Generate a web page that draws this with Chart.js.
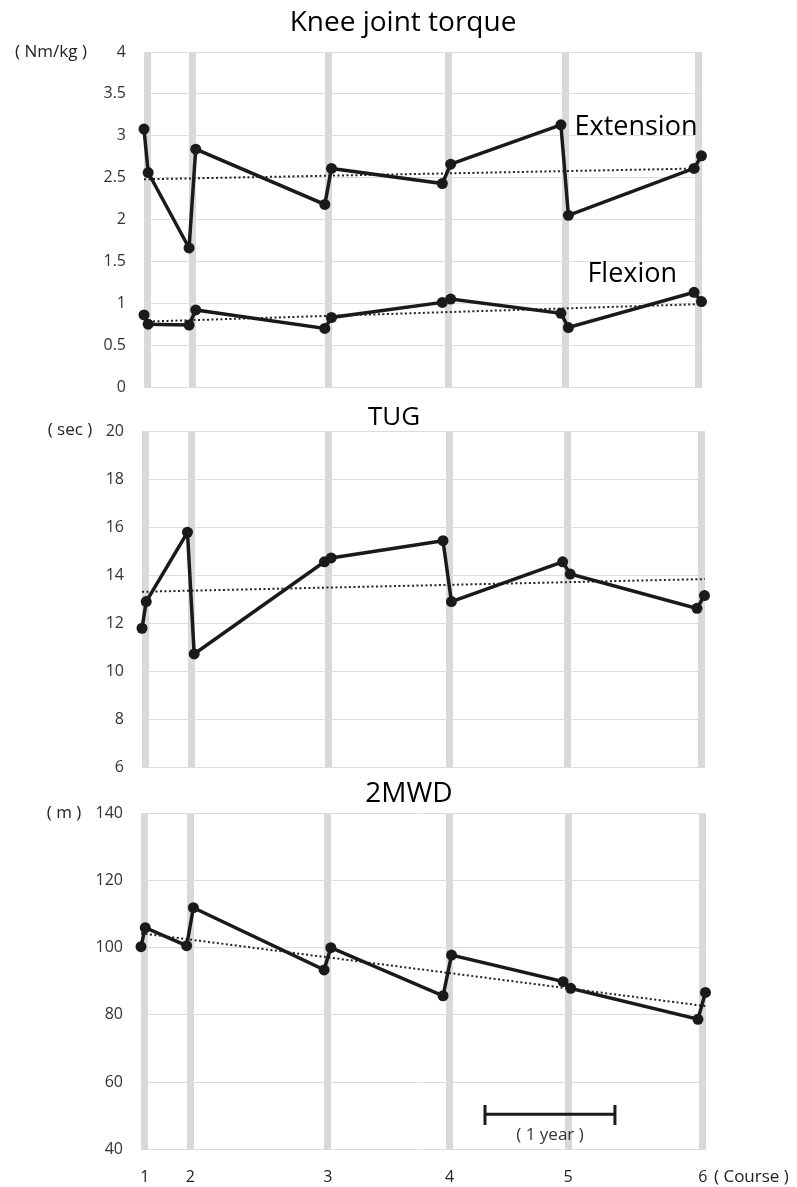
<!DOCTYPE html>
<html><head><meta charset="utf-8">
<script src="https://cdn.jsdelivr.net/npm/chart.js@4"></script>
<style>
body{margin:0;background:#fff;width:797px;height:1187px;overflow:hidden;position:relative;}
.c{position:absolute;left:0;width:797px;}
</style></head>
<body>
<div class="c" style="top:0;height:420px"><canvas id="c1"></canvas></div>
<div class="c" style="top:400px;height:400px"><canvas id="c2"></canvas></div>
<div class="c" style="top:780px;height:407px"><canvas id="c3"></canvas></div>
<script>
// measurement times (months from first measurement)
const times = [0, 0.39, 4.2, 4.82, 16.85, 17.47, 27.8, 28.58, 38.85, 39.55, 51.26, 51.95];
const coursePositions = [0.35, 4.53, 17.2, 28.4, 39.3, 51.7];
const courseLabels = ['1','2','3','4','5','6'];
const extension = [3.08, 2.56, 1.66, 2.84, 2.18, 2.61, 2.43, 2.66, 3.13, 2.05, 2.61, 2.76];
const flexion   = [0.86, 0.75, 0.74, 0.92, 0.70, 0.83, 1.01, 1.05, 0.88, 0.71, 1.13, 1.02];
const tug       = [11.81, 12.92, 15.81, 10.74, 14.58, 14.74, 15.46, 12.92, 14.58, 14.07, 12.64, 13.17];
const mwd       = [100.3, 105.95, 100.6, 111.9, 93.4, 100.0, 85.7, 97.8, 89.9, 87.9, 78.7, 86.7];
const trendX = [0, 52];
const extensionTrend = [2.48, 2.61];
const flexionTrend = [0.78, 0.99];
const tugTrend = [13.33, 13.86];
const mwdTrend = [104.3, 82.6];
const yearBarX = [31.66, 43.62];
const yearBarY = [50.4, 47.2, 53.2];

const FONT = '"Open Sans", "Noto Sans", sans-serif';
const INK = '#1a1a1a';

const textPlugin = {
  id: 'texts',
  afterDraw(chart, args, opts) {
    const ctx = chart.ctx;
    (opts.items || []).forEach(t => {
      ctx.save();
      ctx.font = t.font;
      ctx.fillStyle = t.color || '#000';
      ctx.textAlign = t.align || 'center';
      ctx.textBaseline = 'middle';
      const x = t.px !== undefined ? t.px : chart.scales.x.getPixelForValue(t.x);
      const y = t.py !== undefined ? t.py : chart.scales.y.getPixelForValue(t.y);
      ctx.fillText(t.text, x, y);
      ctx.restore();
    });
  }
};
Chart.register(textPlugin);

function pts(xs, ys) { return ys.map((y, i) => ({x: xs[i], y})); }
function series(values) {
  return {data: pts(times, values), borderColor: INK, borderWidth: 3.5, pointRadius: 5.5,
    pointBackgroundColor: INK, pointBorderWidth: 0, pointHoverRadius: 5.5, tension: 0, clip: false};
}
function trend(values) {
  return {data: pts(trendX, values), borderColor: '#222', borderWidth: 2, borderDash: [2, 2.5],
    pointRadius: 0, tension: 0, clip: false};
}

function makeChart(id, c) {
  new Chart(document.getElementById(id), {
    type: 'line',
    data: {datasets: c.datasets},
    options: {
      responsive: true, maintainAspectRatio: false, animation: false,
      layout: {padding: {left: 0, right: 797 - c.area.right, top: c.area.top,
        bottom: c.height - c.area.bottom - c.xH}},
      plugins: {legend: {display: false}, tooltip: {enabled: false}, texts: {items: c.texts}},
      scales: {
        x: {
          type: 'linear', min: 0, max: 52,
          afterBuildTicks: s => { s.ticks = coursePositions.map(v => ({value: v})); },
          afterFit: s => { s.height = c.xH; },
          ticks: {display: c.showX, autoSkip: false, maxRotation: 0, padding: 19,
            font: {family: FONT, size: 16}, color: '#222',
            callback: (v, i) => courseLabels[i]},
          grid: {color: '#d9d9d9', lineWidth: 7, drawTicks: false},
          border: {display: false}
        },
        y: {
          min: c.yMin, max: c.yMax,
          afterFit: s => { s.width = c.area.left; },
          ticks: {stepSize: c.yStep, padding: 18, font: {family: FONT, size: 16}, color: '#333',
            callback: v => String(Number(v.toFixed(2)))},
          grid: {color: '#dcdcdc', lineWidth: 1, drawTicks: false},
          border: {display: false}
        }
      }
    }
  });
}

makeChart('c1', {
  height: 420, area: {left: 144, right: 702, top: 52, bottom: 387}, xH: 30, showX: false,
  yMin: 0, yMax: 4, yStep: 0.5,
  datasets: [series(extension), series(flexion), trend(extensionTrend), trend(flexionTrend)],
  texts: [
    {text: 'Knee joint torque', px: 403, py: 23, font: '28px ' + FONT},
    {text: '( Nm/kg )', px: 51, py: 52, font: '17px ' + FONT, color: '#222'},
    {text: 'Extension', x: 45.85, y: 3.1, font: '27px ' + FONT},
    {text: 'Flexion', x: 45.5, y: 1.34, font: '27px ' + FONT}
  ]
});

makeChart('c2', {
  height: 400, area: {left: 142, right: 705, top: 31.7, bottom: 367.7}, xH: 30, showX: false,
  yMin: 6, yMax: 20, yStep: 2,
  datasets: [series(tug), trend(tugTrend)],
  texts: [
    {text: 'TUG', px: 394, py: 18, font: '26px ' + FONT},
    {text: '( sec )', px: 70, py: 30, font: '17px ' + FONT, color: '#222'}
  ]
});

makeChart('c3', {
  height: 407, area: {left: 141, right: 706, top: 33.3, bottom: 369.3}, xH: 37.7, showX: true,
  yMin: 40, yMax: 140, yStep: 20,
  datasets: [
    series(mwd), trend(mwdTrend),
    {data: [
      {x: yearBarX[0], y: yearBarY[2]}, {x: yearBarX[0], y: yearBarY[1]}, {x: yearBarX[0], y: yearBarY[0]},
      {x: yearBarX[1], y: yearBarY[0]}, {x: yearBarX[1], y: yearBarY[2]}, {x: yearBarX[1], y: yearBarY[1]}
    ], borderColor: INK, borderWidth: 3, pointRadius: 0, tension: 0}
  ],
  texts: [
    {text: '2MWD', px: 409, py: 14, font: '28px ' + FONT},
    {text: '( m )', px: 64, py: 33, font: '17px ' + FONT, color: '#222'},
    {text: '( 1 year )', x: 37.64, y: 44.3, font: '17px ' + FONT, color: '#333'},
    {text: '( Course )', px: 714, py: 397, font: '17px ' + FONT, color: '#222', align: 'left'}
  ]
});
</script>
</body></html>
